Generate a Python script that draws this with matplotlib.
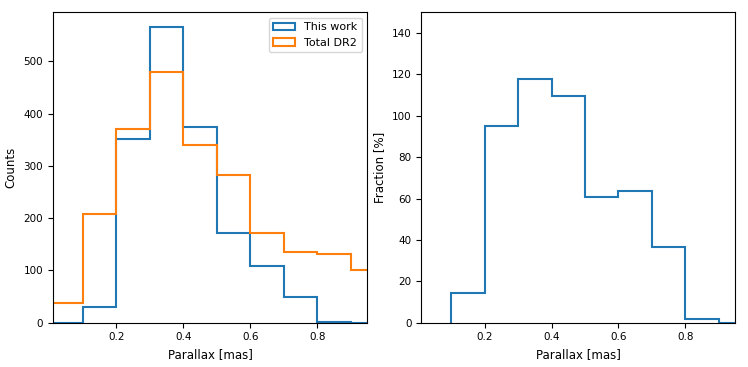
import numpy as np
import matplotlib
matplotlib.use("Agg")
import matplotlib.pyplot as plt

# bin edges in parallax (mas)
bin_edges = [0.0, 0.1, 0.2, 0.3, 0.4, 0.5, 0.6, 0.7, 0.8, 0.9, 1.0]

# counts per bin
counts_this_work = [0, 30, 352, 566, 374, 172, 109, 50, 2, 0]
counts_total_dr2 = [38, 208, 370, 480, 341, 283, 171, 136, 131, 100]

# fraction per bin (%) (starts at the 0.1 edge)
frac_edges = [0.1, 0.2, 0.3, 0.4, 0.5, 0.6, 0.7, 0.8, 0.9, 1.0]
fraction_pct = [14.3, 95, 117.8, 109.6, 60.7, 63.7, 36.7, 1.6, 0]

plt.rcParams['font.size'] = 7.5

fig = plt.figure(figsize=(7.48, 3.67), dpi=100)
ax1 = fig.add_axes([0.0705, 0.1207, 0.4206, 0.8458])
ax2 = fig.add_axes([0.5632, 0.1207, 0.4198, 0.8458])

centers = (np.array(bin_edges[:-1]) + np.array(bin_edges[1:])) / 2
frac_centers = (np.array(frac_edges[:-1]) + np.array(frac_edges[1:])) / 2

ax1.hist(centers, bins=bin_edges, weights=counts_this_work, histtype='step',
         linewidth=1.5, color='#1f77b4', label='This work')
ax1.hist(centers, bins=bin_edges, weights=counts_total_dr2, histtype='step',
         linewidth=1.5, color='#ff7f0e', label='Total DR2')
ax1.set_xlim(0.01, 0.95)
ax1.set_ylim(0, 594)
ax1.set_xticks([0.2, 0.4, 0.6, 0.8])
ax1.set_xlabel("Parallax [mas]", fontsize=8.5)
ax1.set_ylabel("Counts", fontsize=8.5)
ax1.legend(loc='upper right', fontsize=8)

ax2.hist(frac_centers, bins=frac_edges, weights=fraction_pct, histtype='step',
         linewidth=1.5, color='#1f77b4')
ax2.set_xlim(0.01, 0.95)
ax2.set_ylim(0, 150)
ax2.set_xticks([0.2, 0.4, 0.6, 0.8])
ax2.set_xlabel("Parallax [mas]", fontsize=8.5)
ax2.set_ylabel("Fraction [%]", fontsize=8.5)

plt.savefig("out.png", dpi=100)
